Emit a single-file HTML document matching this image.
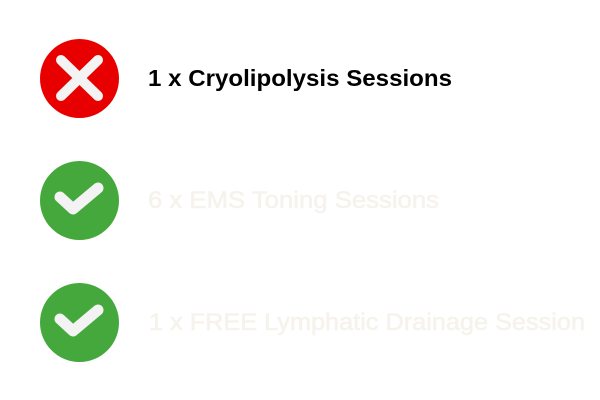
<!DOCTYPE html>
<html><head><style>html,body{margin:0;padding:0;background:#fff;}svg{display:block}</style></head>
<body>
<svg width="600" height="400" xmlns="http://www.w3.org/2000/svg">
<rect width="600" height="400" fill="#fff"/>
<circle cx="79.5" cy="78.5" r="39.5" fill="#e80000"/>
<path d="M61 60 L98 96 M98 60 L61 96" stroke="#f3f3f3" stroke-width="10" stroke-linecap="round"/>
<circle cx="79.5" cy="200.5" r="39.5" fill="#45a83c"/>
<path d="M60 197 L73 209 L98 188" stroke="#f3f3f3" stroke-width="11" stroke-linecap="round" stroke-linejoin="round" fill="none"/>
<circle cx="79.5" cy="322.5" r="39.5" fill="#45a83c"/>
<path d="M60 319 L73 331 L98 310" stroke="#f3f3f3" stroke-width="11" stroke-linecap="round" stroke-linejoin="round" fill="none"/>
<g font-family="Liberation Sans, sans-serif">
<text x="148" y="86" font-size="23" font-weight="bold" fill="#000" textLength="304" lengthAdjust="spacingAndGlyphs">1 x Cryolipolysis Sessions</text>
<text x="148" y="208" font-size="24" fill="#f6f3ec" stroke="#f6f3ec" stroke-width="0.6" textLength="291" lengthAdjust="spacingAndGlyphs">6 x EMS Toning Sessions</text>
<text x="149" y="330" font-size="24" fill="#f6f3ec" stroke="#f6f3ec" stroke-width="0.6" textLength="436" lengthAdjust="spacingAndGlyphs">1 x FREE Lymphatic Drainage Session</text>
</g>
</svg>
</body></html>
